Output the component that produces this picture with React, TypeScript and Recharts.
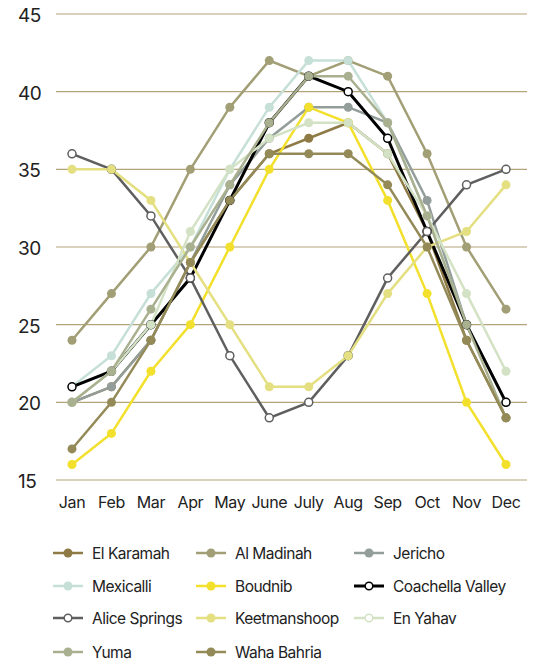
import React from 'react';
import { LineChart, Line, XAxis, YAxis, CartesianGrid } from 'recharts';

const months = ['Jan', 'Feb', 'Mar', 'Apr', 'May', 'June', 'July', 'Aug', 'Sep', 'Oct', 'Nov', 'Dec'];
const yTicks = [15, 20, 25, 30, 35, 40, 45];

const elKaramah = [20, 21, 24, 29, 33, 36, 37, 38, 36, 31, 24, 19];
const alMadinah = [24, 27, 30, 35, 39, 42, 41, 42, 41, 36, 30, 26];
const jericho = [20, 21, 24, 29, 34, 37, 39, 39, 38, 33, 25, 20];
const mexicalli = [21, 23, 27, 30, 35, 39, 42, 42, 38, 32, 25, 20];
const boudnib = [16, 18, 22, 25, 30, 35, 39, 38, 33, 27, 20, 16];
const coachella = [21, 22, 25, 28, 33, 38, 41, 40, 37, 31, 25, 20];
const aliceSprings = [36, 35, 32, 28, 23, 19, 20, 23, 28, 31, 34, 35];
const keetmanshoop = [35, 35, 33, 29, 25, 21, 21, 23, 27, 30, 31, 34];
const enYahav = [20, 22, 25, 31, 35, 37, 38, 38, 36, 32, 27, 22];
const yuma = [20, 22, 26, 30, 34, 38, 41, 41, 38, 32, 25, 19];
const wahaBahria = [17, 20, 24, 29, 33, 36, 36, 36, 34, 30, 24, 19];

interface Series {
  key: string;
  name: string;
  values: number[];
  color: string;
  hollow?: boolean;     // white dot in chart
  legendHollow?: boolean;
  width?: number;
}

const series: Series[] = [
  { key: 'elKaramah', name: 'El Karamah', values: elKaramah, color: '#8e7a45' },
  { key: 'alMadinah', name: 'Al Madinah', values: alMadinah, color: '#a29e75' },
  { key: 'jericho', name: 'Jericho', values: jericho, color: '#939e9a' },
  { key: 'mexicalli', name: 'Mexicalli', values: mexicalli, color: '#c6dfd7' },
  { key: 'boudnib', name: 'Boudnib', values: boudnib, color: '#f2e02c' },
  { key: 'coachella', name: 'Coachella Valley', values: coachella, color: '#000000', hollow: true, legendHollow: true, width: 3 },
  { key: 'aliceSprings', name: 'Alice Springs', values: aliceSprings, color: '#5f5f5f', hollow: true, legendHollow: true },
  { key: 'keetmanshoop', name: 'Keetmanshoop', values: keetmanshoop, color: '#e4df80' },
  { key: 'enYahav', name: 'En Yahav', values: enYahav, color: '#d3e2c4', legendHollow: true },
  { key: 'yuma', name: 'Yuma', values: yuma, color: '#a9b08f' },
  { key: 'wahaBahria', name: 'Waha Bahria', values: wahaBahria, color: '#948a58' },
];

const data = months.map((m, i) => {
  const row: Record<string, string | number> = { month: m };
  series.forEach((s) => { row[s.key] = s.values[i]; });
  return row;
});

const FONT = 'Inter, "Liberation Sans", Arial, sans-serif';

const YTick = (props: any) => {
  const { y, payload } = props;
  return (
    <text x={18} y={y} dy={8} textAnchor="start" fontSize={19} fill="#222" fontFamily={FONT} letterSpacing={-0.5}>
      {payload.value}
    </text>
  );
};

const XTick = (props: any) => {
  const { x, y, payload } = props;
  return (
    <text x={x} y={y} dy={20} textAnchor="middle" fontSize={16} fill="#222" fontFamily={FONT} letterSpacing={-0.4}>
      {payload.value}
    </text>
  );
};

const legendCols = [53, 196, 354];
const legendRows = [553, 586, 618, 652];

export default function App() {
  return (
    <div style={{ position: 'absolute', left: 0, top: 0, width: 535, height: 664, background: '#fff', fontFamily: FONT }}>
      <LineChart width={535} height={520} data={data} margin={{ top: 14, right: 8, left: 0, bottom: 10 }}>
        <CartesianGrid horizontal vertical={false} stroke="#b3a47a" strokeWidth={1.2} />
        <XAxis
          dataKey="month"
          axisLine={false}
          tickLine={false}
          height={30}
          padding={{ left: 16, right: 21 }}
          tick={<XTick />}
          interval={0}
        />
        <YAxis
          domain={[15, 45]}
          ticks={yTicks}
          axisLine={false}
          tickLine={false}
          width={56}
          tick={<YTick />}
        />
        {series.map((s) => (
          <Line
            key={s.key}
            dataKey={s.key}
            name={s.name}
            type="linear"
            stroke={s.color}
            strokeWidth={s.width ?? 2.5}
            dot={{ r: s.hollow ? 4 : 4.5, fill: s.hollow ? '#fff' : s.color, stroke: s.color, strokeWidth: s.hollow ? 1.5 : 0 }}
            isAnimationActive={false}
          />
        ))}
      </LineChart>
      {series.map((s, i) => {
        const col = i % 3;
        const row = Math.floor(i / 3);
        return (
          <div
            key={s.key}
            style={{
              position: 'absolute',
              left: legendCols[col],
              top: legendRows[row] - 10,
              height: 20,
              display: 'flex',
              alignItems: 'center',
              whiteSpace: 'nowrap',
            }}
          >
            <svg width={30} height={12} style={{ marginRight: 9 }}>
              <line x1={0} y1={6} x2={30} y2={6} stroke={s.color} strokeWidth={s.width ?? 2.5} />
              <circle
                cx={15}
                cy={6}
                r={s.legendHollow ? 3.8 : 4.5}
                fill={s.legendHollow ? '#fff' : s.color}
                stroke={s.color}
                strokeWidth={s.legendHollow ? 1.5 : 0}
              />
            </svg>
            <span style={{ fontSize: 15.5, color: '#222', letterSpacing: -0.5 }}>{s.name}</span>
          </div>
        );
      })}
    </div>
  );
}
